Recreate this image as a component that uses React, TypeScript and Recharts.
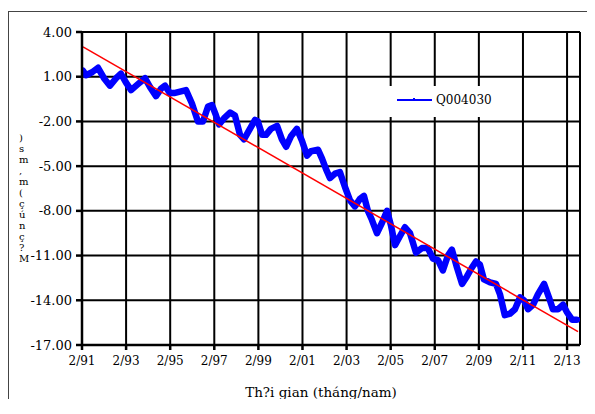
import { LineChart, Line, XAxis, YAxis, CartesianGrid, Legend, ReferenceLine } from "recharts";

// decimal years and water levels (m)
const years = [
  1991.13, 1991.26, 1991.54, 1991.81, 1992.08, 1992.35, 1992.63, 1992.85, 1993.08, 1993.31,
  1993.62, 1993.94, 1994.17, 1994.44, 1994.67, 1994.85, 1995.07, 1995.26, 1995.53, 1995.8,
  1996.07, 1996.34, 1996.57, 1996.8, 1996.98, 1997.16, 1997.3, 1997.52, 1997.8, 1998.02,
  1998.25, 1998.43, 1998.66, 1998.93, 1999.06, 1999.25, 1999.43, 1999.65, 1999.93, 2000.15,
  2000.34, 2000.56, 2000.83, 2001.06, 2001.29, 2001.47, 2001.79, 2001.97, 2002.15, 2002.33,
  2002.56, 2002.78, 2003.01, 2003.24, 2003.46, 2003.69, 2003.87, 2004.05, 2004.23, 2004.46,
  2004.69, 2004.92, 2005.1, 2005.28, 2005.5, 2005.73, 2005.96, 2006.23, 2006.5, 2006.77,
  2007.0, 2007.23, 2007.45, 2007.68, 2007.86, 2008.09, 2008.32, 2008.54, 2008.77, 2008.95,
  2009.13, 2009.31, 2009.59, 2009.86, 2010.04, 2010.26, 2010.49, 2010.72, 2010.95, 2011.13,
  2011.31, 2011.54, 2011.76, 2012.04, 2012.26, 2012.44, 2012.67, 2012.9, 2013.08, 2013.31,
  2013.53,
];
const levels = [
  1.4, 1.1, 1.3, 1.6, 0.9, 0.4, 0.9, 1.2, 0.6, 0.1,
  0.5, 0.9, 0.3, -0.3, 0.2, 0.4, -0.1, -0.1, 0.0, 0.1,
  -0.8, -2.0, -2.0, -1.0, -0.9, -1.6, -2.2, -1.8, -1.4, -1.6,
  -2.9, -3.2, -2.6, -1.9, -2.0, -2.9, -2.9, -2.5, -2.3, -3.2,
  -3.7, -3.0, -2.5, -3.3, -4.3, -4.0, -3.9, -4.5, -5.2, -5.8,
  -5.5, -5.4, -6.4, -7.3, -7.7, -7.2, -7.0, -8.0, -8.6, -9.5,
  -8.8, -8.0, -9.0, -10.3, -9.7, -9.1, -9.5, -10.8, -10.5, -10.5,
  -11.2, -11.3, -12.0, -11.0, -10.6, -11.8, -12.9, -12.4, -11.8, -11.4,
  -11.6, -12.6, -12.8, -12.9, -13.6, -15.0, -14.9, -14.6, -13.8, -14.0,
  -14.6, -14.3, -13.6, -12.9, -13.8, -14.6, -14.6, -14.3, -14.8, -15.3,
  -15.3,
];

const trendYears = [1991.13, 2013.58];
const trendLevels = [3.0, -16.1];

const xTicks = [1991.083, 1993.083, 1995.083, 1997.083, 1999.083, 2001.083, 2003.083, 2005.083, 2007.083, 2009.083, 2011.083, 2013.083];
const xTickLabels = ["2/91", "2/93", "2/95", "2/97", "2/99", "2/01", "2/03", "2/05", "2/07", "2/09", "2/11", "2/13"];
const yTicks = [4, 1, -2, -5, -8, -11, -14, -17];

const yLabelChars = [")", "s", "m", ",", "m", "(", "ç", "ú", "n", "ç", "?", "M"];

const series = years.map((year, i) => ({ year, level: levels[i] }));
const trend = trendYears.map((year, i) => ({ year, trend: trendLevels[i] }));

const FONT = "DejaVu Serif, serif";
const X_MAX = 2013.67;

function LegendBox() {
  return (
    <div style={{ background: "#fff", width: 127, height: 31, position: "relative" }}>
      <svg width={50} height={31} style={{ position: "absolute", left: 0, top: 0 }}>
        <line x1={14} y1={14} x2={49} y2={14} stroke="#0000FF" strokeWidth={2} />
        <line x1={31} y1={12} x2={31} y2={15} stroke="#0000FF" strokeWidth={2} />
      </svg>
      <span style={{ position: "absolute", left: 53, top: 7, fontFamily: FONT, fontSize: 12, color: "#000" }}>Q004030</span>
    </div>
  );
}

export default function App() {
  return (
    <div
      style={{
        position: "relative",
        top: 3,
        width: 578,
        height: 390,
        borderLeft: "1px solid #444",
        borderTop: "1px solid #444",
        background: "#fff",
        fontFamily: FONT,
      }}
    >
      <LineChart width={578} height={388} margin={{ top: 20, right: 7, left: 0, bottom: 0 }} style={{ fontFamily: FONT }}>
        <CartesianGrid stroke="#000" strokeWidth={2} horizontalValues={yTicks} verticalValues={xTicks} />
        <XAxis
          type="number"
          dataKey="year"
          domain={[1991.083, X_MAX]}
          allowDataOverflow
          ticks={xTicks}
          tickFormatter={(v: number) => xTickLabels[xTicks.indexOf(v)] ?? ""}
          height={55}
          tickSize={5}
          tickMargin={6}
          stroke="#000"
          strokeWidth={2.5}
          tick={{ fill: "#000", fontFamily: FONT, fontSize: 12 }}
          label={{ value: "Th?i gian  (tháng/nam)", position: "insideBottom", offset: 3, dx: -10, fill: "#000", fontFamily: FONT, fontSize: 13.5 }}
        />
        <YAxis
          type="number"
          domain={[-17, 4]}
          ticks={yTicks}
          interval={0}
          tickFormatter={(v: number) => v.toFixed(2)}
          width={73}
          tickSize={6}
          tickMargin={4}
          stroke="#000"
          strokeWidth={2.5}
          tick={{ fill: "#000", fontFamily: FONT, fontSize: 13 }}
        />
        <ReferenceLine x={X_MAX} stroke="#000" strokeWidth={2} />
        <Legend
          layout="horizontal"
          align="center"
          verticalAlign="middle"
          wrapperStyle={{ position: "absolute", left: 374, top: 74, width: 127, height: 31 }}
          content={() => <LegendBox />}
        />
        <Line
          data={series}
          dataKey="level"
          name="Q004030"
          type="linear"
          stroke="#0000FF"
          strokeWidth={6.5}
          strokeLinejoin="round"
          strokeLinecap="round"
          dot={false}
          isAnimationActive={false}
        />
        <Line
          data={trend}
          dataKey="trend"
          type="linear"
          stroke="#FF0000"
          strokeWidth={1.5}
          dot={false}
          legendType="none"
          isAnimationActive={false}
        />
      </LineChart>
      <div
        style={{
          position: "absolute",
          left: 10,
          top: 120,
          display: "flex",
          flexDirection: "column",
          alignItems: "flex-start",
          fontFamily: FONT,
          fontSize: 10,
          lineHeight: "11px",
          color: "#000",
        }}
      >
        {yLabelChars.map((c, i) => (
          <span key={i}>{c}</span>
        ))}
      </div>
    </div>
  );
}
